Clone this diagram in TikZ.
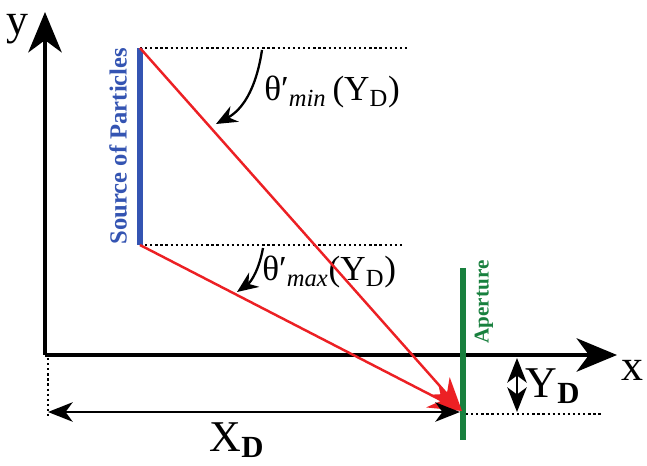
\documentclass[tikz,border=0pt]{standalone}
\usepackage{fontspec}
\setmainfont{Liberation Serif}
\usetikzlibrary{arrows.meta}
\definecolor{srcblue}{RGB}{52,84,178}
\definecolor{apgreen}{RGB}{24,128,62}
\definecolor{rayred}{RGB}{236,32,36}
\tikzset{
  axis/.style={draw,line width=2.4pt,-{Stealth[length=23pt,width=19pt,inset=7pt]}},
  ray/.style={draw,rayred,line width=1.4pt,-{Stealth[length=19pt,width=15pt,inset=6pt]}},
  guide/.style={draw,line width=1.3pt,dash pattern=on 1.3pt off 1.6pt},
  dim/.style={draw,line width=1.5pt,{Stealth[length=14pt,width=11pt,inset=4pt]}-{Stealth[length=14pt,width=11pt,inset=4pt]}},
  angarrow/.style={draw,line width=1.3pt,-{Stealth[length=12pt,width=10pt,inset=4pt]}},
  lbl/.style={font=\fontsize{25}{28}\selectfont,inner sep=0pt},
  anglbl/.style={font=\fontsize{20}{23}\selectfont,inner sep=0pt},
}
\begin{document}
\begin{tikzpicture}[x=0.02cm,y=-0.02cm]
\useasboundingbox (0,0) rectangle (647,466);
\coordinate (O) at (45,355);
\coordinate (ytip) at (45,12);
\coordinate (xtip) at (617,355);
\coordinate (s1) at (140,48);
\coordinate (s2) at (140,245);
\coordinate (t1) at (410,48);
\coordinate (t2) at (402,245);
\coordinate (hit) at (462,411);
\coordinate (a1) at (463,268);
\coordinate (a2) at (463,440);
\coordinate (xd1) at (48,412);
\coordinate (xd2) at (460,412);
\coordinate (yd1) at (517,358);
\coordinate (yd2) at (517,412);
\coordinate (g1) at (48,358);
\coordinate (g2) at (48,416);
\coordinate (h1) at (466,414);
\coordinate (h2) at (602,414);
\coordinate (m1) at (262,50);
\coordinate (m2) at (216,124);
\coordinate (n1) at (263,248);
\coordinate (n2) at (237,292);
\node[lbl] (ylab) at (17,29) {y};
\node[lbl] (xlab) at (632,370) {x};
\node[rotate=90,font=\fontsize{14}{16}\selectfont\bfseries,text=srcblue,inner sep=0pt] (src) at (118,146) {Source of Particles};
\node[rotate=90,font=\fontsize{12}{14}\selectfont\bfseries,text=apgreen,inner sep=0pt] (ap) at (484,302) {Aperture};
\node[anglbl,anchor=west] (thmin) at (264,92) {θ′\textsubscript{\textit{min}}\,(Y\textsubscript{D})};
\node[anglbl,anchor=west] (thmax) at (262,272) {θ′\textsubscript{\textit{max}}(Y\textsubscript{D})};
\node[lbl] (xd) at (237,440) {X\textsubscript{\textbf{D}}};
\node[lbl] (yd) at (553,386) {Y\textsubscript{\textbf{D}}};
\path[guide] (s1) -- (t1);
\path[guide] (s2) -- (t2);
\path[guide] (g1) -- (g2);
\path[guide] (h1) -- (h2);
\path[axis] (O) -- (ytip);
\path[axis] (O) -- (xtip);
\path[draw,srcblue,line width=3.4pt] (s1) -- (s2);
\path[draw,apgreen,line width=3pt] (a1) -- (a2);
\path[ray] (s1) -- (hit);
\path[ray] (s2) -- (hit);
\path[dim] (xd1) -- (xd2);
\path[dim] (yd1) -- (yd2);
\path[angarrow] (m1) .. controls (256,90) and (242,110) .. (m2);
\path[angarrow] (n1) .. controls (259,270) and (251,282) .. (n2);
\end{tikzpicture}
\end{document}
